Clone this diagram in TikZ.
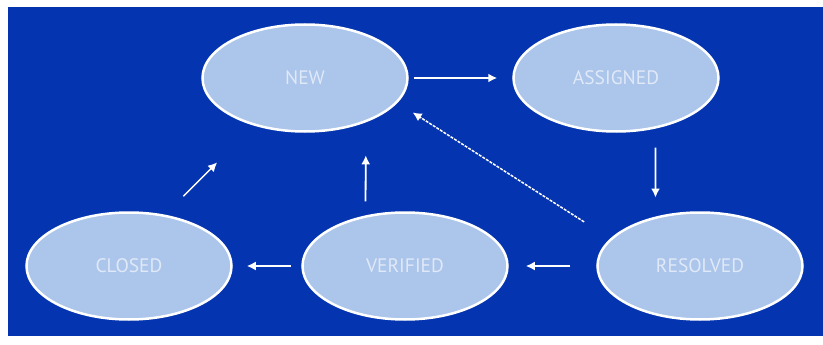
\documentclass[tikz,border=0pt]{standalone}
\usepackage{fontspec}
\setmainfont{PT Sans}
\usetikzlibrary{shapes.geometric,arrows.meta}
\definecolor{bgblue}{RGB}{4,52,176}
\definecolor{statefill}{RGB}{172,197,234}
\definecolor{statetext}{RGB}{224,233,248}
\tikzstyle{state} = [draw=white, line width=2.5pt, ellipse, fill=statefill, text=statetext, minimum width=205pt, minimum height=107pt, inner sep=0pt, font=\fontsize{19.5}{19.5}\selectfont]
\tikzstyle{flow} = [->, draw=white, line width=1.8pt]
\begin{document}
\begin{tikzpicture}[x=1pt, y=-1pt, >={Latex[length=9pt,width=9pt]}]

\fill [white] (0,0) rectangle (823,345);
\fill [bgblue] (8,7) rectangle (823,336);
\useasboundingbox (0,0) rectangle (823,345);

\node [state] (new) at (305,78) {NEW};
\node [state] (assigned) at (616,78) {ASSIGNED};
\node [state] (closed) at (129,266) {CLOSED};
\node [state] (verified) at (405,266) {VERIFIED};
\node [state] (resolved) at (700,266) {RESOLVED};

\draw [flow, shorten <=5pt, shorten >=15pt] (new.east) -- (assigned.west);
\draw [flow, shorten <=19pt, shorten >=19pt] (assigned.-52) -- (resolved.132);
\draw [flow, line width=1.5pt, dash pattern=on 3pt off 1.2pt, shorten <=31pt, shorten >=18pt] (resolved.163) -- (new.-15);
\draw [flow, shorten <=26pt, shorten >=17pt] (resolved.west) -- (verified.east);
\draw [flow, shorten <=14pt, shorten >=33pt] (verified.128) -- (new.-36);
\draw [flow, shorten <=10pt, shorten >=14pt] (verified.west) -- (closed.east);
\draw [flow, line width=1.5pt, shorten <=26pt, shorten >=52pt] (closed.55) -- (new.223);

\end{tikzpicture}
\end{document}
